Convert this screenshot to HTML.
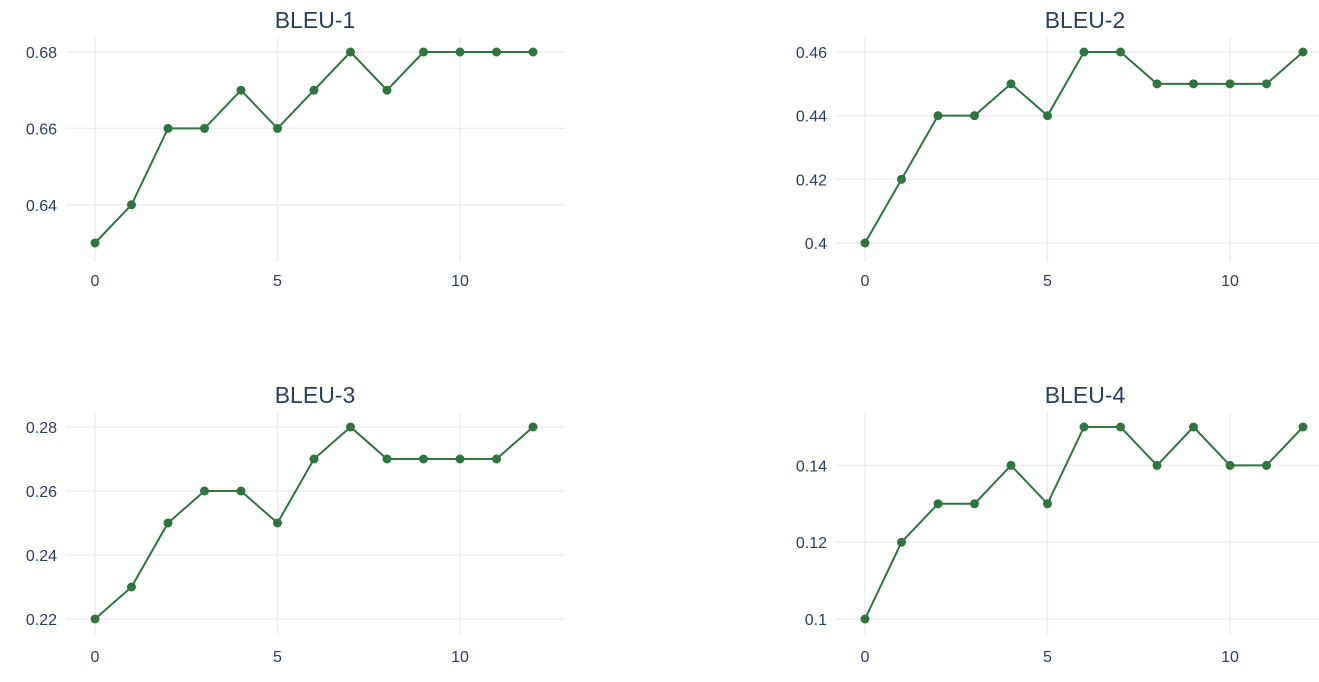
<!DOCTYPE html>
<html><head><meta charset="utf-8"><style>
body{margin:0;background:#fff;width:1319px;height:677px;overflow:hidden;font-family:"Liberation Sans",sans-serif}
</style></head><body>
<svg id="chart" width="1319" height="677" xmlns="http://www.w3.org/2000/svg"></svg>
<script>
const xValues = [0,1,2,3,4,5,6,7,8,9,10,11,12];
const titles = ["BLEU-1","BLEU-2","BLEU-3","BLEU-4"];
const bleu1 = [0.63,0.64,0.66,0.66,0.67,0.66,0.67,0.68,0.67,0.68,0.68,0.68,0.68];
const bleu2 = [0.40,0.42,0.44,0.44,0.45,0.44,0.46,0.46,0.45,0.45,0.45,0.45,0.46];
const bleu3 = [0.22,0.23,0.25,0.26,0.26,0.25,0.27,0.28,0.27,0.27,0.27,0.27,0.28];
const bleu4 = [0.10,0.12,0.13,0.13,0.14,0.13,0.15,0.15,0.14,0.15,0.14,0.14,0.15];
const xTicks = [0,5,10];
const yTicks1 = [0.64,0.66,0.68];
const yTicks2 = [0.4,0.42,0.44,0.46];
const yTicks3 = [0.22,0.24,0.26,0.28];
const yTicks4 = [0.1,0.12,0.14];
const yTickLabels1 = ["0.64","0.66","0.68"];
const yTickLabels2 = ["0.4","0.42","0.44","0.46"];
const yTickLabels3 = ["0.22","0.24","0.26","0.28"];
const yTickLabels4 = ["0.1","0.12","0.14"];

const NS="http://www.w3.org/2000/svg";
const svg=document.getElementById('chart');
function mk(tag,attrs,parent){const e=document.createElementNS(NS,tag);for(const k in attrs)e.setAttribute(k,attrs[k]);(parent||svg).appendChild(e);return e;}

const panels=[
 {series:bleu1,ticks:yTicks1,labels:yTickLabels1,x0:95,x1:533,left:66,right:565,top:37,bottom:262,yA:0.68,pA:52,yB:0.63,pB:243,tx:315,ty:28,xl:286},
 {series:bleu2,ticks:yTicks2,labels:yTickLabels2,x0:865,x1:1303,left:836,right:1319,top:37,bottom:262,yA:0.46,pA:52,yB:0.40,pB:243,tx:1085,ty:28,xl:286},
 {series:bleu3,ticks:yTicks3,labels:yTickLabels3,x0:95,x1:533,left:66,right:565,top:412,bottom:635,yA:0.28,pA:427,yB:0.22,pB:619,tx:315,ty:403,xl:662},
 {series:bleu4,ticks:yTicks4,labels:yTickLabels4,x0:865,x1:1303,left:836,right:1319,top:412,bottom:635,yA:0.15,pA:427,yB:0.10,pB:619,tx:1085,ty:403,xl:662}
];
panels.forEach((p,i)=>{
 const g=mk('g',{});
 
 
 const xs=v=>p.x0+(v-0)*(p.x1-p.x0)/12;
 const ys=v=>p.pB+(v-p.yB)*(p.pA-p.pB)/(p.yA-p.yB);
 xTicks.forEach(t=>{
  const l=mk('line',{x1:xs(t),x2:xs(t),y1:p.top,y2:p.bottom,stroke:'#ebeef2','stroke-width':1.5},g);
  
  
  const tx=mk('text',{x:xs(t),y:p.xl,'text-anchor':'middle','font-size':16,fill:'#2a3f5f'},g);
  tx.textContent=t;
  
  
 });
 p.ticks.forEach((t,j)=>{
  const l=mk('line',{x1:p.left,x2:p.right,y1:ys(t),y2:ys(t),stroke:'#ebeef2','stroke-width':1.5},g);
  
  
  const tx=mk('text',{x:p.left-9,y:ys(t)+6,'text-anchor':'end','font-size':16,fill:'#2a3f5f'},g);
  tx.textContent=p.labels[j];
  
  
 });
 const ttl=mk('text',{x:p.tx,y:p.ty,'text-anchor':'middle','font-size':23,fill:'#2a3f5f'},g);
 ttl.textContent=titles[i];
 
 
 const pts=xValues.map((x,k)=>xs(x)+','+ys(p.series[k])).join(' ');
 const line=mk('polyline',{points:pts,fill:'none',stroke:'#2e7540','stroke-width':2},g);
 
 
 xValues.forEach((x,k)=>{
  const c=mk('circle',{cx:xs(x),cy:ys(p.series[k]),r:4.5,fill:'#2e7540'},g);
  
  
 });
});
</script>
</body></html>
